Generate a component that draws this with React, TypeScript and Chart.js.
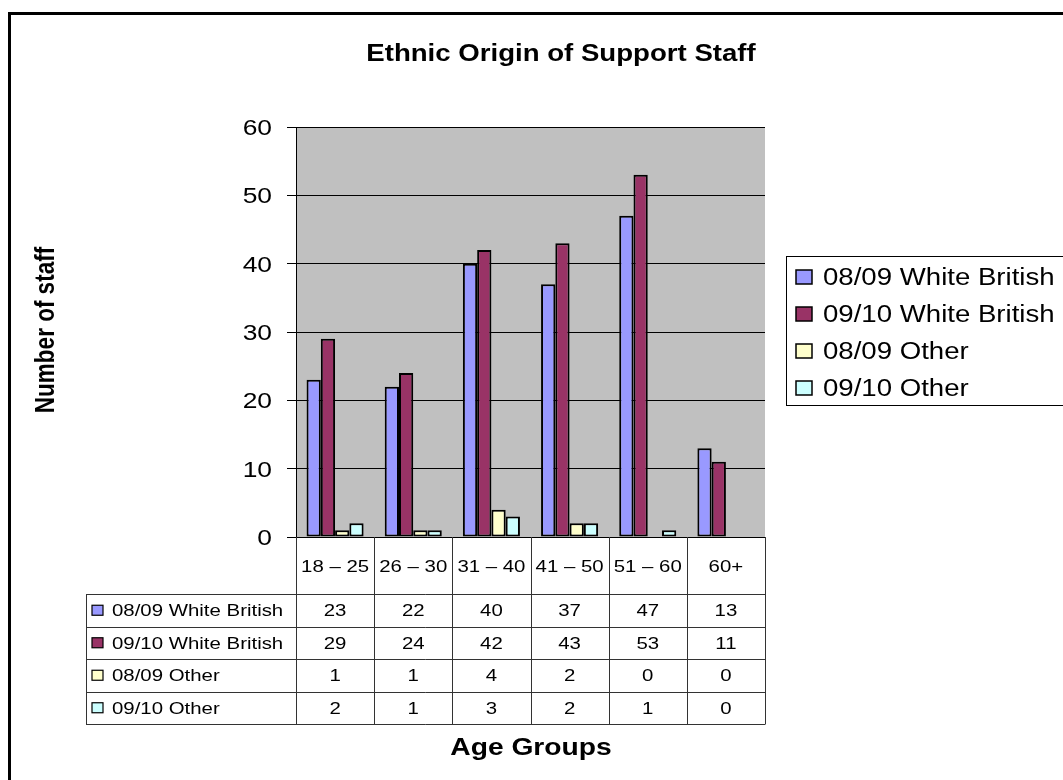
import { useEffect, useRef } from "react";
import { Chart, registerables } from "chart.js";
Chart.register(...registerables);

const categories = ["18 – 25", "26 – 30", "31 – 40", "41 – 50", "51 – 60", "60+"];
const seriesNames = ["08/09 White British", "09/10 White British", "08/09 Other", "09/10 Other"];
const wb0809 = [23, 22, 40, 37, 47, 13];
const wb0910 = [29, 24, 42, 43, 53, 11];
const other0809 = [1, 1, 4, 2, 0, 0];
const other0910 = [2, 1, 3, 2, 1, 0];
const seriesColors = ["#9999FF", "#993366", "#FFFFCC", "#CCFFFF"];
const yTicks = [0, 10, 20, 30, 40, 50, 60];
const chartTitle = "Ethnic Origin of Support Staff";
const xTitle = "Age Groups";
const yTitle = "Number of staff";

const SX = 1.2;
const FONT = '"Liberation Sans", Arial, Helvetica, sans-serif';

function txt(ctx: CanvasRenderingContext2D, s: string, x: number, y: number, size: number, bold: boolean, align: CanvasTextAlign) {
  ctx.save();
  ctx.font = `${bold ? "bold " : ""}${size}px ${FONT}`;
  ctx.textBaseline = "alphabetic";
  ctx.textAlign = align;
  ctx.fillStyle = "#000";
  ctx.translate(x, y);
  ctx.scale(SX, 1);
  ctx.fillText(s, 0, 0);
  ctx.restore();
}

const allSeries = [wb0809, wb0910, other0809, other0910];

const decor = {
  id: "decor",
  beforeDraw(chart: any) {
    const { ctx, chartArea } = chart;
    ctx.save();
    ctx.fillStyle = "#fff";
    ctx.fillRect(0, 0, chart.width, chart.height);
    ctx.fillStyle = "#C0C0C0";
    ctx.fillRect(chartArea.left, chartArea.top, chartArea.right - chartArea.left, chartArea.bottom - chartArea.top);
    ctx.restore();
  },
  afterDraw(chart: any) {
    const { ctx, chartArea } = chart;
    const xs = chart.scales.x;
    const ys = chart.scales.y;
    ctx.save();
    // outer frame
    ctx.strokeStyle = "#000";
    ctx.lineWidth = 3;
    ctx.strokeRect(9.5, 13.5, 2000, 2000);

    // titles
    txt(ctx, chartTitle, 561, 61, 23, true, "center");
    txt(ctx, xTitle, 531, 755, 23.5, true, "center");
    ctx.save();
    ctx.font = `bold 22.5px ${FONT}`;
    ctx.fillStyle = "#000";
    ctx.textAlign = "center";
    ctx.textBaseline = "middle";
    ctx.translate(47, 330);
    ctx.scale(SX, 1);
    ctx.rotate(-Math.PI / 2);
    ctx.fillText(yTitle, 0, 0);
    ctx.restore();

    // y tick labels
    yTicks.forEach((v) => {
      const y = ys.getPixelForValue(v);
      txt(ctx, String(v), 272, y + 7.9, 22, false, "right");
    });

    // data table
    const n = categories.length;
    const bounds: number[] = [];
    for (let i = 0; i <= n; i++) {
      if (i === 0) bounds.push(chartArea.left);
      else if (i === n) bounds.push(chartArea.right);
      else bounds.push((xs.getPixelForValue(i - 1) + xs.getPixelForValue(i)) / 2);
    }
    const top = chartArea.bottom;
    const headerBottom = 594;
    const rowH = 32.5;
    const tableBottom = headerBottom + rowH * allSeries.length;
    const keyLeft = 86;
    ctx.strokeStyle = "#333";
    ctx.lineWidth = 1;
    ctx.beginPath();
    bounds.forEach((b) => {
      const bx = Math.round(b) + 0.5;
      ctx.moveTo(bx, top);
      ctx.lineTo(bx, tableBottom);
    });
    ctx.moveTo(keyLeft + 0.5, headerBottom);
    ctx.lineTo(keyLeft + 0.5, tableBottom);
    for (let r = 0; r <= allSeries.length; r++) {
      const yy = Math.round(headerBottom + r * rowH) + 0.5;
      ctx.moveTo(keyLeft, yy);
      ctx.lineTo(chartArea.right + 0.5, yy);
    }
    ctx.stroke();

    const fs = 17;
    const capHalf = 0.716 * fs / 2;
    categories.forEach((c, i) => {
      const cx = xs.getPixelForValue(i);
      txt(ctx, c, cx, (top + headerBottom) / 2 + capHalf, fs, false, "center");
    });
    allSeries.forEach((arr, r) => {
      const cy = headerBottom + r * rowH + rowH / 2;
      ctx.fillStyle = seriesColors[r];
      ctx.fillRect(92, cy - 5, 11, 10);
      ctx.strokeStyle = "#000";
      ctx.lineWidth = 1.2;
      ctx.strokeRect(92, cy - 5, 11, 10);
      txt(ctx, seriesNames[r], 112, cy + capHalf, fs, false, "left");
      arr.forEach((v, i) => {
        txt(ctx, String(v), xs.getPixelForValue(i), cy + capHalf, fs, false, "center");
      });
    });

    // legend
    ctx.fillStyle = "#fff";
    ctx.fillRect(786, 256, 400, 149);
    ctx.strokeStyle = "#000";
    ctx.lineWidth = 1;
    ctx.strokeRect(786.5, 256.5, 400, 149);
    seriesNames.forEach((name, i) => {
      const cy = 277 + i * 37;
      ctx.fillStyle = seriesColors[i];
      ctx.fillRect(796, cy - 7, 16, 14);
      ctx.strokeStyle = "#000";
      ctx.lineWidth = 1.5;
      ctx.strokeRect(796, cy - 7, 16, 14);
      txt(ctx, name, 823, cy + 0.716 * 23 / 2, 23, false, "left");
    });
    ctx.restore();
  },
};

export default function App() {
  const ref = useRef<HTMLCanvasElement | null>(null);
  useEffect(() => {
    if (!ref.current) return;
    const chart = new Chart(ref.current, {
      type: "bar",
      data: {
        labels: categories,
        datasets: allSeries.map((arr, i) => ({
          label: seriesNames[i],
          data: arr,
          backgroundColor: seriesColors[i],
          borderColor: "#000",
          borderWidth: 2,
          borderSkipped: false,
          categoryPercentage: 0.73,
          barPercentage: 1,
        })),
      },
      options: {
        responsive: false,
        animation: false,
        devicePixelRatio: 1,
        layout: { padding: { left: 256, right: 298, top: 127, bottom: 243 } },
        plugins: {
          legend: { display: false },
          tooltip: { enabled: false },
          title: { display: false },
        },
        scales: {
          x: { display: false, offset: true },
          y: {
            min: 0,
            max: 60,
            ticks: { stepSize: 10, display: false },
            grid: { color: "#000", lineWidth: 1, drawTicks: true, tickLength: 9, tickColor: "#000" },
            border: { color: "#000", width: 1 },
            afterFit: (s: any) => {
              s.width = 40;
            },
          },
        },
      },
      plugins: [decor],
    } as any);
    return () => chart.destroy();
  }, []);
  return (
    <div style={{ position: "fixed", left: 0, top: 0, width: 1063, height: 780, overflow: "hidden", background: "#fff" }}>
      <canvas ref={ref} width={1063} height={780} style={{ display: "block", width: 1063, height: 780 }} />
    </div>
  );
}
